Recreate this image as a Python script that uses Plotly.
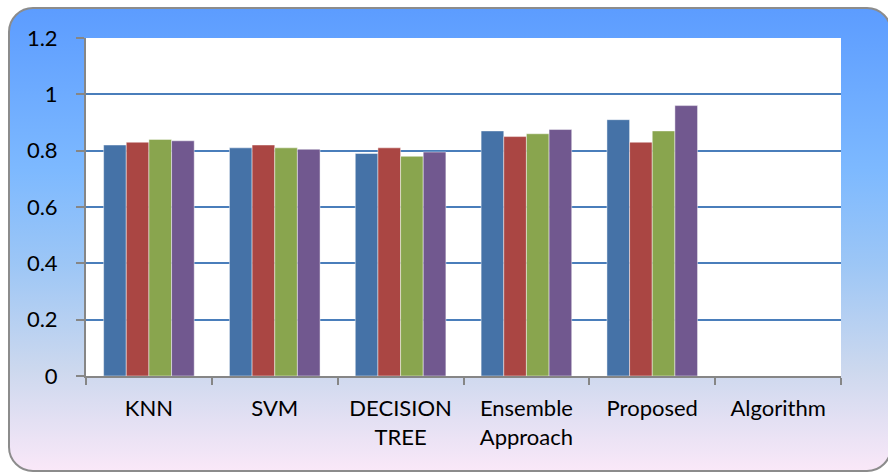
import base64
import plotly.graph_objects as go

# Category labels along the x axis (the last group has no bars)
categories = ["KNN", "SVM", "DECISION<br>TREE", "Ensemble<br>Approach", "Proposed", "Algorithm"]

# Four metric series per classifier
series_1 = [0.82, 0.81, 0.79, 0.87, 0.91, None]
series_2 = [0.83, 0.82, 0.81, 0.85, 0.83, None]
series_3 = [0.84, 0.81, 0.78, 0.86, 0.87, None]
series_4 = [0.835, 0.805, 0.795, 0.875, 0.96, None]

series_names = ["Series 1", "Series 2", "Series 3", "Series 4"]
series_values = [series_1, series_2, series_3, series_4]
colors = ["#4572A7", "#AA4643", "#89A54E", "#71588F"]

W, H = 888, 472
ML, MR, MT, MB = 86, 47, 38, 96

# Rounded panel with a vertical blue-to-pink gradient, used as background
svg = f"""<svg xmlns='http://www.w3.org/2000/svg' width='{W}' height='{H}' viewBox='0 0 {W} {H}'>
<defs><linearGradient id='g' x1='0' y1='0' x2='0' y2='1'>
<stop offset='0' stop-color='#5C9CFF'/>
<stop offset='0.35' stop-color='#7DB9FF'/>
<stop offset='0.55' stop-color='#9CC6F6'/>
<stop offset='0.78' stop-color='#CCD8EE'/>
<stop offset='1' stop-color='#FAE8F8'/>
</linearGradient></defs>
<rect x='9' y='8' width='882' height='463' rx='24' ry='24' fill='url(#g)' stroke='#8C8C8C' stroke-width='2'/>
</svg>"""
bg_src = "data:image/svg+xml;base64," + base64.b64encode(svg.encode()).decode()

fig = go.Figure()
for name, vals, col in zip(series_names, series_values, colors):
    fig.add_trace(go.Bar(
        x=categories, y=vals, name=name,
        marker=dict(color=col, line=dict(color="rgba(255,255,255,0.45)", width=1)),
    ))

pw = W - ML - MR
ph = H - MT - MB
fig.add_layout_image(dict(
    source=bg_src, xref="paper", yref="paper",
    x=-ML / pw, y=1 + MT / ph, sizex=W / pw, sizey=H / ph,
    sizing="stretch", xanchor="left", yanchor="top", layer="below",
))
# white plotting area on top of the gradient panel
fig.add_shape(type="rect", xref="paper", yref="paper", x0=0, x1=1, y0=0, y1=1,
              fillcolor="white", line=dict(width=0), layer="below")

font = dict(family="Lato, 'Open Sans', sans-serif", size=22, color="#000000")

fig.update_layout(
    width=W, height=H,
    margin=dict(l=ML, r=MR, t=MT, b=MB),
    paper_bgcolor="white", plot_bgcolor="white",
    barmode="group", bargap=0.28, bargroupgap=0,
    showlegend=False,
    font=font,
    xaxis=dict(
        type="category", showgrid=False, showline=True, linecolor="#868686", linewidth=2,
        ticks="outside", tickson="boundaries", ticklen=7, tickcolor="#868686", tickwidth=2,
        tickfont=font, ticklabelstandoff=12, fixedrange=True,
    ),
    yaxis=dict(
        range=[0, 1.2], dtick=0.2, tick0=0, showgrid=True, gridcolor="#4A7EBB", gridwidth=2,
        showline=True, linecolor="#868686", linewidth=2, zeroline=False,
        ticks="outside", ticklen=8, tickcolor="#868686", tickwidth=2,
        tickfont=font, ticklabelstandoff=14, fixedrange=True,
    ),
)

fig.write_html("out.html")
